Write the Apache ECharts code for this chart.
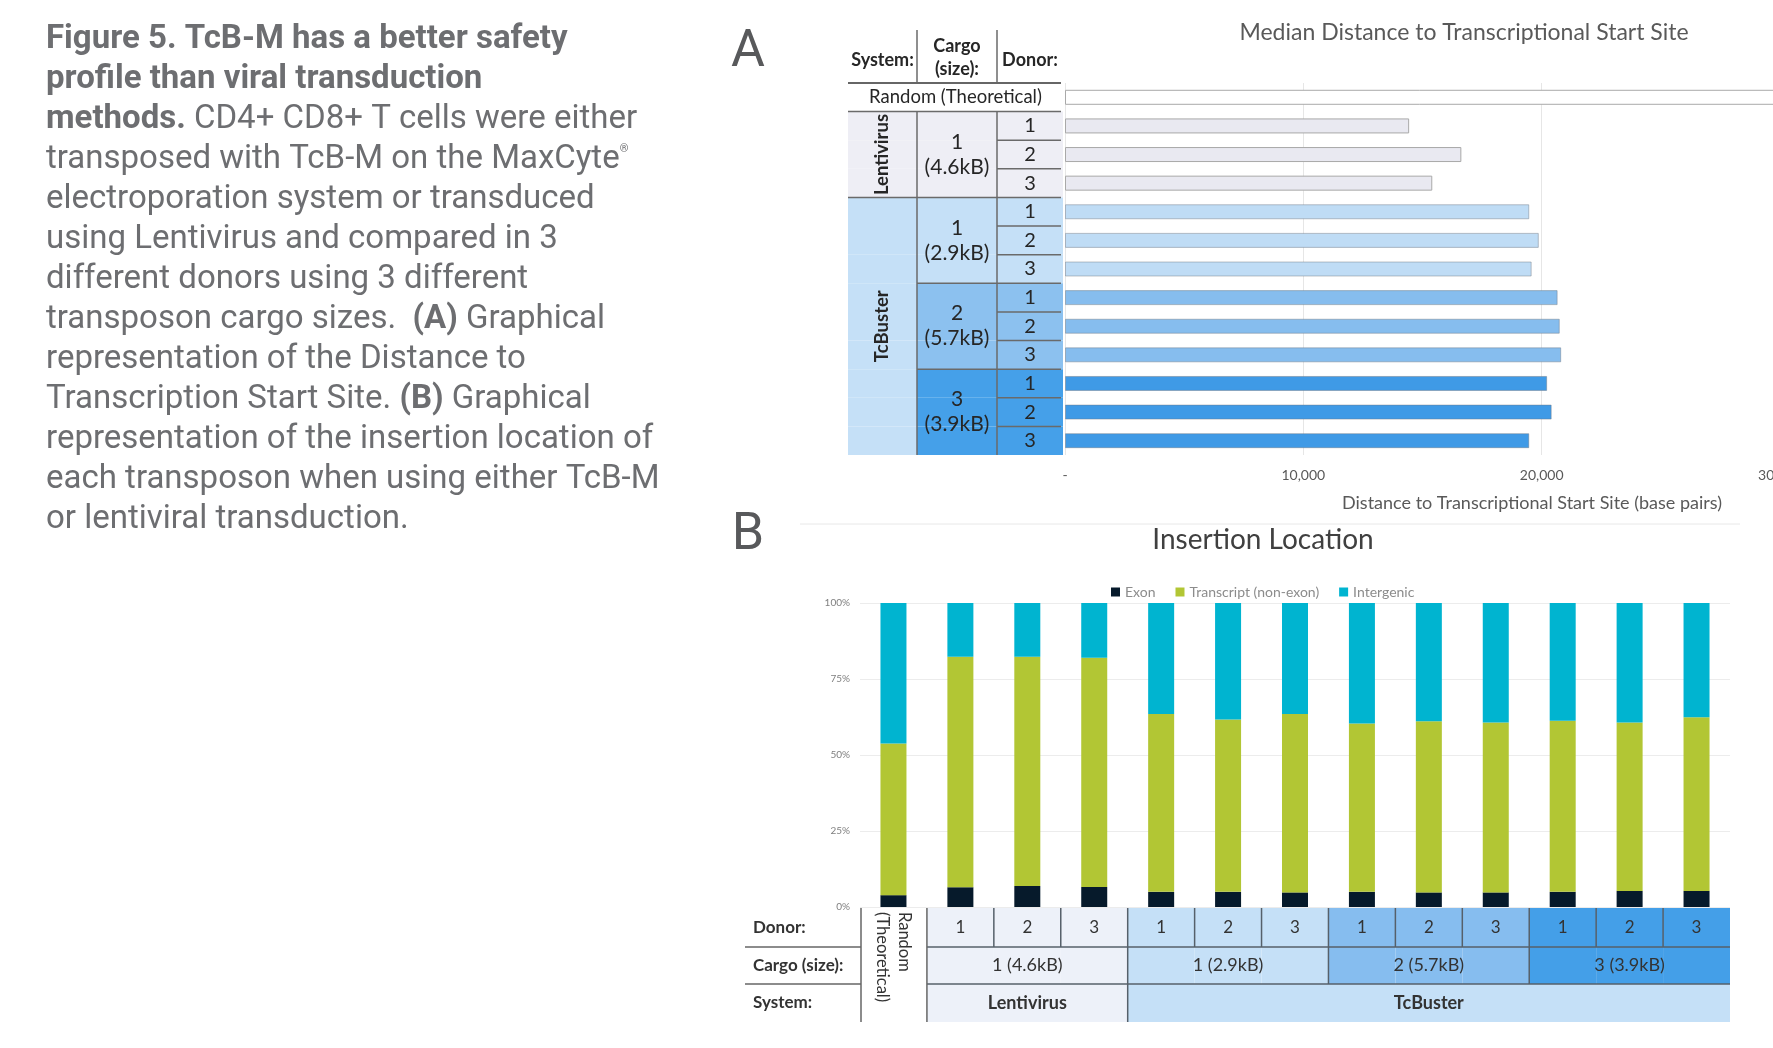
<!DOCTYPE html>
<html>
<head>
<meta charset="utf-8">
<title>Figure 5</title>
<script src="https://cdn.jsdelivr.net/npm/echarts@6.0.0/dist/echarts.min.js"></script>
<style>
  html, body { margin: 0; padding: 0; background: #fff; }
  #chart { width: 1773px; height: 1048px; }
</style>
</head>
<body>
<div id="chart"></div>
<script>
// ---- data ----
const randomLabel = 'Random (Theoretical)';
const systemLabels = ['Lentivirus', 'TcBuster'];
const cargoLabels = ['1 (4.6kB)', '1 (2.9kB)', '2 (5.7kB)', '3 (3.9kB)'];
const cargoLabelsStacked = ['1\n(4.6kB)', '1\n(2.9kB)', '2\n(5.7kB)', '3\n(3.9kB)'];
const donorLabels = ['1', '2', '3'];

// one row per (cargo, donor), random row first
const categories = [randomLabel];
cargoLabels.forEach(c => donorLabels.forEach(d => categories.push(c + ' / donor ' + d)));

// median distance to TSS (bp); random is off the scale
const medianDistance = [45000, 14440, 16630, 15410, 19480, 19880, 19580,
  20670, 20760, 20820, 20230, 20420, 19480];
const distanceTicks = { min: 0, max: 30000, interval: 10000 };

// insertion location (%)
const exonPct = [3.9, 6.5, 6.9, 6.6, 5.0, 5.0, 4.8, 5.0, 4.8, 4.8, 5.0, 5.3, 5.3];
const transcriptPct = [49.9, 75.8, 75.4, 75.4, 58.5, 56.7, 58.7, 55.4, 56.3, 55.9, 56.3, 55.4, 57.1];
const intergenicPct = [46.2, 17.7, 17.7, 18.0, 36.5, 38.3, 36.5, 39.6, 38.9, 39.3, 38.7, 39.3, 37.6];
const pctTicks = { min: 0, max: 100, interval: 25 };

// ---- styling ----
const groupOf = i => (i === 0 ? 0 : 1 + Math.floor((i - 1) / 3));
const barFillA = ['#ffffff', '#e9e9f1', '#bfdcf5', '#86bdee', '#3f9ae6'];
const cellFillA = ['#ffffff', '#eeeef5', '#c5e0f7', '#8cc1ef', '#45a0e9'];
const cellFillB = ['#ffffff', '#edf1f9', '#c5e0f7', '#86bdef', '#449fe8'];
const FONT = 'Lato';

const chart = echarts.init(document.getElementById('chart'));

const option = {
  animation: false,
  textStyle: { fontFamily: FONT },
  grid: [
    { left: 1065, right: -7, top: 83, height: 372, outerBoundsMode: 'none' },
    { left: 860, right: 43, top: 603, height: 304, outerBoundsMode: 'none' }
  ],
  xAxis: [
    {
      type: 'value', gridIndex: 0,
      min: distanceTicks.min, max: distanceTicks.max, interval: distanceTicks.interval,
      axisLine: { show: false }, axisTick: { show: false },
      axisLabel: {
        color: '#595959', fontSize: 14, margin: 13, fontFamily: FONT,
        formatter: v => (v === 0 ? '-' : v.toLocaleString('en-US'))
      },
      splitLine: { lineStyle: { color: '#e6e6e6' } }
    },
    { type: 'category', gridIndex: 1, data: categories, show: false }
  ],
  yAxis: [
    { type: 'category', gridIndex: 0, data: categories, inverse: true, show: false },
    {
      type: 'value', gridIndex: 1,
      min: pctTicks.min, max: pctTicks.max, interval: pctTicks.interval,
      axisLine: { show: false }, axisTick: { show: false },
      axisLabel: { formatter: '{value}%', fontSize: 10, color: '#7f7f7f', margin: 10, fontFamily: FONT },
      splitLine: { lineStyle: { color: '#ececec' } }
    }
  ],
  legend: {
    data: ['Exon', 'Transcript (non-exon)', 'Intergenic'],
    orient: 'horizontal', left: 1106, top: 580,
    icon: 'rect', itemWidth: 9, itemHeight: 9, itemGap: 20,
    textStyle: { fontSize: 14, color: '#8c8c8c', fontFamily: FONT }
  },
  series: [
    {
      name: 'Median distance', type: 'bar', xAxisIndex: 0, yAxisIndex: 0,
      barWidth: 15, clip: true,
      data: medianDistance.map((v, i) => ({
        value: v,
        itemStyle: {
          color: barFillA[groupOf(i)],
          borderColor: groupOf(i) < 2 ? '#a9a9a9' : 'rgba(110,120,130,0.45)',
          borderWidth: 1
        }
      }))
    },
    {
      name: 'Exon', type: 'bar', stack: 'loc', xAxisIndex: 1, yAxisIndex: 1,
      barWidth: 26, itemStyle: { color: '#061a2b' }, data: exonPct
    },
    {
      name: 'Transcript (non-exon)', type: 'bar', stack: 'loc', xAxisIndex: 1, yAxisIndex: 1,
      barWidth: 26, itemStyle: { color: '#b2c634' }, data: transcriptPct
    },
    {
      name: 'Intergenic', type: 'bar', stack: 'loc', xAxisIndex: 1, yAxisIndex: 1,
      barWidth: 26, itemStyle: { color: '#00b4d0' }, data: intergenicPct
    }
  ]
};
chart.setOption(option);

// ---- tables, titles and caption ----
const g = [];
function R(x, y, w, h, fill) {
  g.push({ type: 'rect', silent: true, z: 1, shape: { x, y, width: w, height: h }, style: { fill } });
}
function L(x1, y1, x2, y2, color, w) {
  g.push({ type: 'line', silent: true, z: 5, shape: { x1, y1, x2, y2 },
    style: { stroke: color || '#5f5f5f', lineWidth: w || 1.5 } });
}
function T(x, y, str, o) {
  o = o || {};
  const align = o.align || 'center', valign = o.valign || 'middle';
  g.push({
    type: 'text', silent: true, z: 10, x, y, rotation: o.rot || 0,
    style: {
      text: str, fill: o.color || '#262626',
      font: (o.weight || 'normal') + ' ' + (o.size || 15) + 'px ' + (o.family || FONT),
      align, textAlign: align, verticalAlign: valign, textVerticalAlign: valign,
      lineHeight: o.lh, rich: o.rich
    }
  });
}

// panel A table
const yc = i => chart.convertToPixel({ yAxisIndex: 0 }, i);
const bandA = yc(1) - yc(0);
const rowTop = i => yc(i) - bandA / 2;
const ax = [848, 917, 997, 1063];
const lineA = '#6a6a6a';

for (let i = 0; i < categories.length; i++) {
  const gi = groupOf(i);
  if (gi === 0) { R(ax[0], rowTop(i), ax[3] - ax[0], bandA, cellFillA[0]); continue; }
  R(ax[0], rowTop(i), ax[1] - ax[0], bandA, gi === 1 ? cellFillA[1] : cellFillA[2]);
  R(ax[1], rowTop(i), ax[3] - ax[1], bandA, cellFillA[gi]);
}
// header
T((ax[0] + ax[1]) / 2, 60, 'System:', { weight: 'bold', size: 18 });
T((ax[1] + ax[2]) / 2, 58, 'Cargo\n(size):', { weight: 'bold', size: 18, lh: 23 });
T((ax[2] + ax[3]) / 2, 60, 'Donor:', { weight: 'bold', size: 18 });
L(ax[1], 30, ax[1], rowTop(0), lineA);
L(ax[2], 30, ax[2], rowTop(0), lineA);
L(ax[0], rowTop(0), ax[3] - 2, rowTop(0), '#666', 2);
// random row
T((ax[0] + ax[3]) / 2, yc(0), randomLabel, { size: 18.5 });
L(ax[0], rowTop(1), ax[3] - 2, rowTop(1), lineA);
// body
const bodyBottom = rowTop(12) + bandA;
L(ax[1], rowTop(1), ax[1], bodyBottom, lineA);
L(ax[2], rowTop(1), ax[2], bodyBottom, lineA);
T((ax[0] + ax[1]) / 2, (rowTop(1) + rowTop(4)) / 2, systemLabels[0], { weight: 'bold', size: 18.5, rot: Math.PI / 2 });
T((ax[0] + ax[1]) / 2, (rowTop(4) + bodyBottom) / 2, systemLabels[1], { weight: 'bold', size: 18.5, rot: Math.PI / 2 });
L(ax[0], rowTop(4), ax[3] - 2, rowTop(4), lineA);
cargoLabelsStacked.forEach((c, k) => {
  const r0 = 1 + k * 3;
  const t0 = rowTop(r0), t1 = rowTop(r0) + 3 * bandA;
  T((ax[1] + ax[2]) / 2, (t0 + t1) / 2, c, { size: 21, lh: 25 });
  if (k > 1) L(ax[1], t0, ax[3] - 2, t0, lineA);
  donorLabels.forEach((d, j) => {
    const r = r0 + j;
    T((ax[2] + ax[3]) / 2, yc(r), d, { size: 20 });
    if (j > 0) L(ax[2], rowTop(r), ax[3] - 2, rowTop(r), lineA);
  });
});

// panel A titles
T(1464, 33, 'Median Distance to Transcriptional Start Site', { size: 23, color: '#595959' });
T(1532, 503, 'Distance to Transcriptional Start Site (base pairs)', { size: 18, color: '#595959' });

// panel B table
const xc = i => chart.convertToPixel({ xAxisIndex: 1 }, i);
const bandB = xc(1) - xc(0);
const colLeft = i => xc(i) - bandB / 2;
const rowsB = [908, 947, 984, 1022];
const lineB = '#56606a';
const tableRight = colLeft(12) + bandB;

for (let i = 1; i < categories.length; i++) {
  const gi = groupOf(i);
  R(colLeft(i), rowsB[0], bandB, rowsB[2] - rowsB[0], cellFillB[gi]);
  T(xc(i), (rowsB[0] + rowsB[1]) / 2, donorLabels[(i - 1) % 3], { size: 17, color: '#333' });
  if (i > 1) L(colLeft(i), rowsB[0], colLeft(i), (i - 1) % 3 === 0 ? rowsB[2] : rowsB[1], lineB);
}
R(colLeft(1), rowsB[2], 3 * bandB, rowsB[3] - rowsB[2], cellFillB[1]);
R(colLeft(4), rowsB[2], tableRight - colLeft(4), rowsB[3] - rowsB[2], cellFillB[2]);
L(colLeft(4), rowsB[2], colLeft(4), rowsB[3], lineB);
cargoLabels.forEach((c, k) => {
  const a = colLeft(1 + k * 3), b = a + 3 * bandB;
  T((a + b) / 2, (rowsB[1] + rowsB[2]) / 2, c, { size: 18, color: '#333' });
});
T((colLeft(1) + colLeft(4)) / 2, (rowsB[2] + rowsB[3]) / 2, systemLabels[0], { size: 18, weight: 'bold', color: '#333' });
T((colLeft(4) + tableRight) / 2, (rowsB[2] + rowsB[3]) / 2, systemLabels[1], { size: 18, weight: 'bold', color: '#333' });
L(colLeft(1), rowsB[1], tableRight, rowsB[1], lineB);
L(colLeft(1), rowsB[2], tableRight, rowsB[2], lineB);
// row headers
const hx0 = 745, hx1 = 861;
T(753, (rowsB[0] + rowsB[1]) / 2, 'Donor:', { size: 17, weight: 'bold', align: 'left', color: '#333' });
T(753, (rowsB[1] + rowsB[2]) / 2, 'Cargo (size):', { size: 17, weight: 'bold', align: 'left', color: '#333' });
T(753, (rowsB[2] + rowsB[3]) / 2, 'System:', { size: 17, weight: 'bold', align: 'left', color: '#333' });
L(hx0, rowsB[1], hx1, rowsB[1], '#666');
L(hx0, rowsB[2], hx1, rowsB[2], '#666');
L(hx1, rowsB[0], hx1, rowsB[3], '#666');
L(colLeft(1), rowsB[0], colLeft(1), rowsB[3], '#666');
T(xc(0), 912, 'Random\n(Theoretical)', { size: 16.5, lh: 22, rot: -Math.PI / 2, align: 'left', color: '#333' });

// panel B title and divider
L(800, 524, 1740, 524, '#e8e8e8', 1);
T(1263, 540, 'Insertion Location', { size: 28, color: '#404040' });

// panel letters
T(748, 53, 'A', { size: 52, family: 'Roboto', color: '#58595b' });
T(748, 536, 'B', { size: 52, family: 'Roboto', color: '#58595b' });

// caption
const capFont = '33px Roboto';
const capRich = {
  b: { font: 'bold 33px Roboto', fill: '#6d6e71', color: '#6d6e71' },
  s: { font: '11px Roboto', fill: '#6d6e71', color: '#6d6e71', verticalAlign: 'top' }
};
const caption = [
  '{b|Figure 5. TcB-M has a better safety}',
  '{b|profile than viral transduction}',
  '{b|methods.} CD4+ CD8+ T cells were either',
  'transposed with TcB-M on the MaxCyte{s|®}',
  'electroporation system or transduced',
  'using Lentivirus and compared in 3',
  'different donors using 3 different',
  'transposon cargo sizes.  {b|(A)} Graphical',
  'representation of the Distance to',
  'Transcription Start Site. {b|(B)} Graphical',
  'representation of the insertion location of',
  'each transposon when using either TcB-M',
  'or lentiviral transduction.'
];
caption.forEach((line, i) => {
  g.push({
    type: 'text', silent: true, z: 10, x: 46, y: 40 + i * 40,
    style: {
      text: line, font: capFont, fill: '#6d6e71',
      align: 'left', textAlign: 'left', verticalAlign: 'middle', textVerticalAlign: 'middle',
      rich: capRich
    }
  });
});

chart.setOption({ graphic: { elements: g } });
</script>
</body>
</html>
